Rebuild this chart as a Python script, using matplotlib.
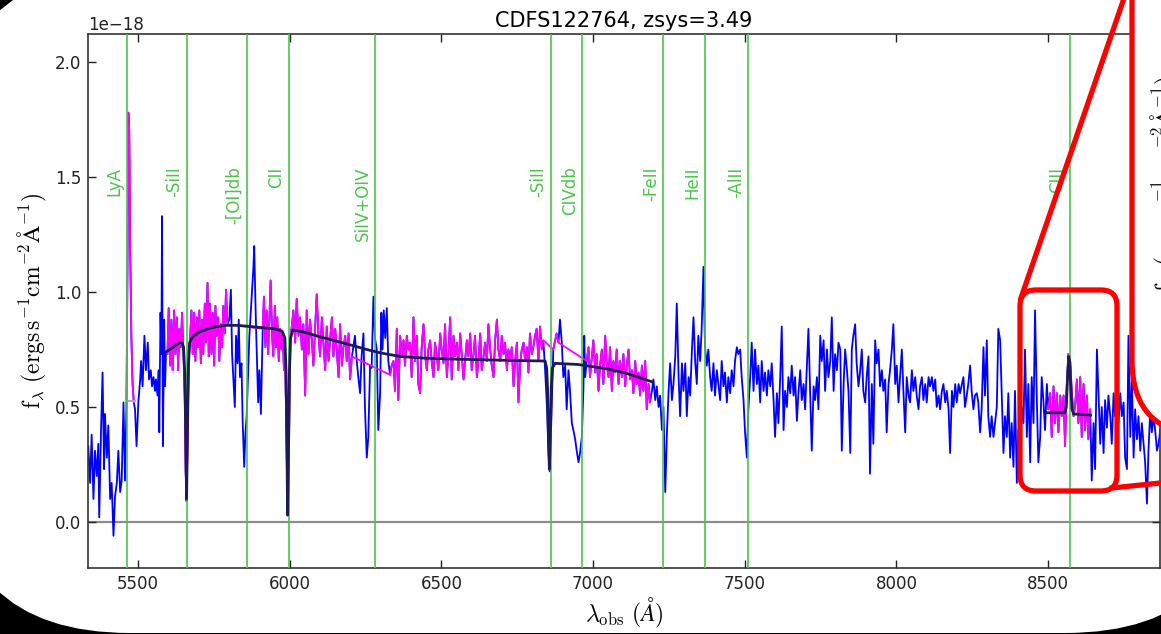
import numpy as np
import matplotlib
matplotlib.use('Agg')
import matplotlib.pyplot as plt
from matplotlib.patches import FancyBboxPatch
from matplotlib.lines import Line2D
import matplotlib.transforms as mtransforms

plt.rcParams['mathtext.fontset'] = 'cm'
plt.rcParams['font.family'] = 'DejaVu Sans'

# ---------------- data ----------------
title = 'CDFS122764, zsys=3.49'
flux_unit = 1e-18

wave_1 = [5336, 5342, 5347, 5353, 5358, 5364, 5369, 5372, 5378, 5383, 5388, 5391, 5397, 5402, 5408, 5413, 5419, 5424, 5430, 5435,
          5441, 5446, 5452, 5457, 5462, 5465, 5468, 5471, 5474, 5478, 5482, 5486, 5490, 5495, 5501, 5507, 5510, 5515, 5521, 5526,
          5532, 5536, 5542, 5546, 5551, 5556, 5559, 5564, 5568, 5570, 5574, 5577, 5579, 5582, 5586, 5589, 5592]
flux_1 = [0.33, 0.17, 0.38, 0.10, 0.31, 0.20, 0.34, 0.02, 0.40, 0.65, 0.23, 0.47, 0.28, 0.42, 0.10, 0.17, -0.06, 0.11, 0.17, 0.31,
          0.13, 0.18, 0.52, 0.18, 0.52, 1.10, 1.78, 1.70, 1.20, 0.80, 0.60, 0.52, 0.49, 0.33, 0.52, 0.62, 0.70, 0.59, 0.81, 0.66,
          0.78, 0.62, 0.66, 0.59, 0.63, 0.57, 0.62, 0.55, 0.66, 0.39, 0.91, 0.73, 1.33, 0.33, 0.88, 0.59, 0.73]

wave_2 = [5597, 5601, 5606, 5610, 5614, 5619, 5623, 5628, 5632, 5636, 5641, 5645, 5650, 5654, 5657, 5660, 5663, 5667, 5672, 5676,
          5680, 5685, 5689, 5694, 5698, 5702, 5707, 5711, 5715, 5720, 5724, 5729, 5733, 5737, 5742, 5746, 5751, 5755, 5759, 5764,
          5768, 5773, 5777, 5781, 5786, 5790, 5795]
flux_2 = [0.73, 0.93, 0.68, 0.88, 0.66, 0.92, 0.73, 0.89, 0.66, 0.84, 0.76, 0.91, 0.72, 0.55, 0.22, 0.09, 0.35, 0.70, 0.81, 0.92,
          0.73, 0.91, 0.70, 0.89, 0.76, 0.92, 0.69, 0.88, 0.73, 0.95, 0.78, 1.04, 0.72, 0.95, 0.73, 0.91, 0.68, 0.94, 0.81, 0.89,
          0.70, 0.86, 0.76, 0.94, 0.82, 1.01, 0.86]

wave_3 = [5801, 5806, 5810, 5814, 5819, 5823, 5828, 5832, 5836, 5841, 5845, 5850, 5854, 5858, 5863, 5867, 5872, 5876, 5880, 5883,
          5887, 5891, 5896, 5900, 5905]
flux_3 = [0.88, 1.01, 0.73, 0.63, 0.50, 0.81, 0.69, 0.88, 0.63, 0.69, 0.43, 0.24, 0.39, 0.46, 0.66, 0.81, 0.92, 1.01, 1.10, 1.20,
          0.95, 0.75, 0.52, 0.66, 0.47]

wave_4 = [5911, 5915, 5920, 5924, 5929, 5933, 5937, 5942, 5946, 5951, 5955, 5959, 5964, 5968, 5973, 5977, 5981, 5985, 5989, 5993,
          5997, 6001, 6007, 6012, 6018, 6023, 6029, 6034, 6040, 6045, 6051, 6056, 6062, 6067, 6073, 6078, 6084, 6089, 6095, 6100,
          6106, 6111, 6117, 6122, 6128, 6133, 6139, 6144, 6150, 6155, 6161, 6166, 6172, 6177, 6183, 6188, 6194, 6199, 6205]
flux_4 = [0.84, 0.98, 0.76, 0.92, 0.73, 0.88, 1.05, 0.81, 0.72, 0.94, 0.76, 0.89, 0.70, 0.84, 0.75, 0.82, 0.66, 0.70, 0.40, 0.03,
          0.25, 0.80, 0.85, 0.92, 0.78, 0.97, 0.81, 0.89, 0.75, 0.86, 0.55, 0.92, 0.73, 0.88, 0.79, 0.68, 0.85, 0.99, 0.81, 0.72,
          0.89, 0.78, 0.66, 0.85, 0.70, 0.79, 0.89, 0.72, 0.84, 0.75, 0.63, 0.86, 0.68, 0.76, 0.81, 0.70, 0.82, 0.62, 0.72]

wave_5 = [6215, 6221, 6226, 6232, 6237, 6243, 6248, 6254, 6259, 6265, 6270, 6276, 6281, 6287, 6292, 6298, 6302, 6306, 6310, 6315,
          6320, 6325]
flux_5 = [0.81, 0.70, 0.63, 0.56, 0.72, 0.82, 0.50, 0.28, 0.37, 0.68, 0.67, 0.98, 0.80, 0.75, 0.40, 0.56, 0.91, 0.75, 0.92, 0.80,
          0.93, 0.70]

wave_6 = [6331, 6336, 6342, 6347, 6353, 6358, 6364, 6369, 6375, 6380, 6386, 6391, 6397, 6402, 6408, 6413, 6419, 6424, 6430, 6435,
          6441, 6446, 6452, 6457, 6463, 6468, 6474, 6479, 6485, 6490, 6496, 6501, 6507, 6512, 6518, 6523, 6529, 6534, 6540, 6545,
          6551, 6556, 6562, 6567, 6573, 6578, 6584, 6589, 6595, 6600, 6606, 6611, 6617, 6622, 6628, 6633, 6639, 6644, 6650, 6655,
          6661, 6666, 6672, 6677, 6683, 6688, 6694, 6699, 6705, 6710, 6716, 6721, 6727, 6732, 6738, 6743, 6749, 6754, 6760, 6765,
          6771, 6776, 6782, 6787, 6792, 6798, 6803, 6809, 6814, 6820, 6825, 6831, 6836]
flux_6 = [0.64, 0.68, 0.70, 0.57, 0.84, 0.53, 0.81, 0.72, 0.79, 0.68, 0.81, 0.75, 0.78, 0.63, 0.89, 0.70, 0.81, 0.60, 0.56, 0.76,
          0.86, 0.73, 0.66, 0.75, 0.79, 0.70, 0.63, 0.78, 0.72, 0.66, 0.82, 0.75, 0.69, 0.86, 0.63, 0.73, 0.89, 0.62, 0.81, 0.72,
          0.78, 0.66, 0.82, 0.73, 0.62, 0.70, 0.79, 0.72, 0.82, 0.66, 0.73, 0.81, 0.63, 0.70, 0.82, 0.66, 0.72, 0.78, 0.70, 0.86,
          0.75, 0.68, 0.63, 0.79, 0.88, 0.75, 0.70, 0.81, 0.73, 0.78, 0.66, 0.75, 0.70, 0.76, 0.59, 0.70, 0.78, 0.52, 0.69, 0.75,
          0.78, 0.70, 0.76, 0.65, 0.82, 0.73, 0.76, 0.81, 0.84, 0.70, 0.85, 0.75, 0.79]

wave_7 = [6842, 6848, 6853, 6857, 6861, 6866, 6869, 6875, 6880, 6886, 6891, 6897, 6902, 6908, 6913, 6919, 6924, 6930, 6935, 6941,
          6946, 6952, 6957, 6963, 6968, 6971, 6974]
flux_7 = [0.66, 0.50, 0.30, 0.22, 0.38, 0.62, 0.75, 0.79, 0.82, 0.78, 0.88, 0.78, 0.63, 0.68, 0.49, 0.66, 0.57, 0.43, 0.40, 0.36,
          0.31, 0.26, 0.30, 0.37, 0.57, 0.81, 0.63]

wave_8 = [6979, 6985, 6990, 6996, 7001, 7007, 7012, 7018, 7023, 7029, 7034, 7040, 7045, 7051, 7056, 7062, 7067, 7073, 7078, 7084,
          7089, 7095, 7100, 7106, 7111, 7117, 7122, 7128, 7133, 7139, 7144, 7150, 7155, 7161, 7166, 7172, 7177, 7183, 7188]
flux_8 = [0.70, 0.76, 0.63, 0.72, 0.79, 0.65, 0.73, 0.57, 0.68, 0.75, 0.60, 0.81, 0.69, 0.63, 0.76, 0.57, 0.70, 0.65, 0.75, 0.60,
          0.70, 0.63, 0.73, 0.59, 0.68, 0.75, 0.62, 0.66, 0.56, 0.70, 0.60, 0.65, 0.55, 0.68, 0.57, 0.70, 0.49, 0.60, 0.52]

wave_9 = [7194, 7199, 7205, 7210, 7216, 7221, 7227, 7232, 7238, 7243, 7249, 7254, 7260, 7265, 7271, 7276, 7282, 7287, 7293, 7298,
          7304, 7309, 7315, 7320, 7326, 7331, 7337, 7342, 7347, 7353, 7358, 7364, 7369, 7375, 7380, 7386, 7391, 7397, 7402, 7408,
          7413, 7419, 7424, 7430, 7435, 7441, 7446, 7452, 7457, 7463, 7468, 7474, 7479, 7485, 7490, 7496, 7501, 7507, 7512]
flux_9 = [0.57, 0.62, 0.53, 0.59, 0.50, 0.55, 0.40, 0.50, 0.13, 0.37, 0.57, 0.69, 0.53, 0.60, 0.72, 0.95, 0.63, 0.46, 0.69, 0.57,
          0.69, 0.46, 0.63, 0.55, 0.75, 0.89, 0.69, 0.60, 0.81, 0.70, 0.84, 1.11, 0.76, 0.68, 0.75, 0.63, 0.57, 0.69, 0.55, 0.66,
          0.60, 0.53, 0.70, 0.59, 0.65, 0.52, 0.63, 0.56, 0.66, 0.59, 0.70, 0.76, 0.73, 0.75, 0.63, 0.53, 0.39, 0.28, 0.49]

wave_10 = [7518, 7523, 7529, 7534, 7540, 7545, 7551, 7556, 7562, 7567, 7573, 7578, 7584, 7589, 7595, 7600, 7606, 7611, 7617, 7622,
           7628, 7633, 7639, 7644, 7650, 7655, 7661, 7666, 7672, 7677, 7683, 7688, 7694, 7699, 7705, 7710, 7716, 7721, 7727, 7732,
           7738, 7743, 7749, 7754, 7760, 7765, 7771, 7776, 7782, 7787, 7793, 7798, 7804, 7809, 7815, 7820, 7826, 7831, 7837, 7842,
           7848, 7853, 7858, 7864, 7869, 7875, 7880, 7886, 7891, 7897, 7902, 7908, 7913, 7919, 7924, 7930, 7935, 7941, 7946, 7952,
           7957, 7963, 7968, 7974, 7979, 7985, 7990, 7996, 8001, 8007, 8012, 8018, 8023, 8029, 8034, 8040, 8045, 8051, 8056, 8062,
           8067, 8073, 8078, 8084, 8089, 8095, 8100, 8106, 8111, 8117, 8122, 8128, 8133, 8139, 8144, 8150, 8155, 8161, 8166, 8172,
           8177, 8183, 8188, 8194, 8199, 8205, 8210, 8216, 8221, 8226, 8232, 8237, 8243, 8248, 8254, 8259, 8265, 8270, 8276, 8281,
           8287, 8292, 8298, 8303, 8309, 8314, 8320, 8325, 8331, 8336, 8342, 8347, 8353, 8358, 8364, 8369, 8375, 8380, 8386, 8391,
           8397, 8402, 8408, 8413, 8419, 8424, 8430, 8435, 8441, 8446, 8452, 8457, 8463, 8468, 8474, 8479, 8485, 8490, 8496]
flux_10 = [0.63, 0.78, 0.57, 0.75, 0.60, 0.68, 0.52, 0.70, 0.57, 0.65,
           0.55, 0.66, 0.59, 0.69, 0.53, 0.37, 0.56, 0.43, 0.63, 0.85,
           0.40, 0.57, 0.50, 0.63, 0.56, 0.68, 0.55, 0.63, 0.44, 0.56,
           0.66, 0.53, 0.60, 0.49, 0.68, 0.84, 0.55, 0.31, 0.59, 0.53,
           0.63, 0.49, 0.81, 0.70, 0.79, 0.57, 0.75, 0.63, 0.70, 0.89,
           0.57, 0.73, 0.66, 0.78, 0.75, 0.31, 0.60, 0.75, 0.66, 0.57,
           0.30, 0.75, 0.81, 0.86, 0.69, 0.59, 0.65, 0.75, 0.57, 0.52,
           0.63, 0.72, 0.21, 0.60, 0.34, 0.79, 0.69, 0.75, 0.59, 0.66,
           0.57, 0.62, 0.39, 0.60, 0.66, 0.75, 0.86, 0.60, 0.68, 0.52,
           0.63, 0.75, 0.57, 0.39, 0.63, 0.55, 0.52, 0.66, 0.57, 0.63,
           0.55, 0.49, 0.59, 0.63, 0.53, 0.60, 0.52, 0.63, 0.59, 0.63,
           0.57, 0.62, 0.50, 0.55, 0.49, 0.57, 0.60, 0.52, 0.57, 0.49,
           0.30, 0.57, 0.50, 0.60, 0.52, 0.60, 0.56, 0.60, 0.63, 0.50,
           0.55, 0.60, 0.68, 0.57, 0.49, 0.55, 0.56, 0.52, 0.39, 0.49,
           0.76, 0.55, 0.79, 0.46, 0.37, 0.46, 0.37, 0.43, 0.50, 0.84,
           0.79, 0.57, 0.30, 0.46, 0.37, 0.56, 0.28, 0.43, 0.24, 0.57,
           0.17, 0.40, 0.31, 0.50, 0.43, 0.75, 0.37, 0.60, 0.26, 0.63,
           0.43, 0.92, 0.53, 0.26, 0.37, 0.63, 0.52, 0.40, 0.60]

wave_11 = [8501, 8507, 8512, 8518, 8523, 8529, 8534, 8540, 8545, 8551, 8556, 8562, 8567, 8573, 8578, 8584, 8589, 8595, 8600, 8606,
           8611, 8617, 8622, 8628, 8633, 8639]
flux_11 = [0.49, 0.56, 0.37, 0.59, 0.43, 0.56, 0.39, 0.55, 0.46, 0.55, 0.33, 0.60, 0.73, 0.70, 0.57, 0.46, 0.50, 0.62, 0.43, 0.63,
           0.37, 0.60, 0.40, 0.55, 0.36, 0.49]

wave_12 = [8644, 8650, 8655, 8661, 8666, 8672, 8677, 8683, 8688, 8694, 8699, 8705, 8710, 8716, 8721, 8727, 8732, 8738, 8743, 8749,
           8754, 8760, 8765, 8771, 8776, 8782, 8787, 8793, 8798, 8804, 8809, 8815, 8820, 8826, 8831, 8837, 8842, 8848, 8853, 8859,
           8864, 8870]
flux_12 = [0.18, 0.43, 0.23, 0.75, 0.57, 0.34, 0.50, 0.30, 0.53, 0.41, 0.55, 0.46, 0.34, 0.56, 0.46, 0.55, 0.43, 0.56, 0.46, 0.52,
           0.28, 0.23, 0.81, 0.37, 0.63, 0.28, 0.49, 0.36, 0.46, 0.31, 0.43, 0.34, 0.26, 0.08, 0.31, 0.49, 0.39, 0.46, 0.40, 0.31,
           0.34, 0.40]

# fitting windows (magenta); windows inside one group are joined by the line
fit_groups = [
    [(5459, 5489)],
    [(5593, 5797), (5908, 6206), (6330, 6840), (6868, 6890), (6975, 7190)],
    [(8498, 8640)],
]

# continuum + absorption model
model_wave_1 = [5593, 5610, 5625, 5638, 5645, 5650, 5654, 5657, 5660, 5663, 5666, 5670, 5680, 5700, 5730, 5760, 5790, 5830, 5870,
                5910, 5950, 5975, 5984, 5988, 5991, 5993, 5996, 5999, 6003, 6010, 6050, 6100, 6144, 6200, 6254, 6300, 6364, 6450,
                6550, 6650, 6750, 6842, 6847, 6850, 6853, 6856, 6859, 6862, 6866, 6875, 6950, 7000, 7050, 7100, 7150, 7193]
model_flux_1 = [0.74, 0.755, 0.77, 0.78, 0.78, 0.76, 0.65, 0.40, 0.10, 0.40, 0.68, 0.78, 0.805, 0.825, 0.84, 0.85, 0.855, 0.855,
                0.85, 0.845, 0.84, 0.83, 0.80, 0.65, 0.30, 0.03, 0.30, 0.65, 0.80, 0.835, 0.825, 0.805, 0.79, 0.77, 0.75, 0.735,
                0.72, 0.712, 0.708, 0.705, 0.702, 0.70, 0.67, 0.58, 0.38, 0.23, 0.36, 0.58, 0.67, 0.69, 0.685, 0.675, 0.665, 0.65,
                0.63, 0.61]
model_wave_2 = [8497, 8555, 8560, 8564, 8568, 8571, 8575, 8579, 8584, 8640]
model_flux_2 = [0.475, 0.475, 0.50, 0.62, 0.72, 0.70, 0.58, 0.49, 0.47, 0.465]
lya_wave = [5460, 5490]
lya_flux = [0.525, 0.525]

line_names = ['LyA', '-SiII', '-[OI]db', 'CII', 'SiIV+OIV', '-SiII', 'CIVdb', '-FeII', 'HeII', '-AlII', 'CIII']
line_waves = [5462, 5662, 5858, 5997, 6281, 6861, 6965, 7232, 7370, 7512, 8572]

xticks = [5500, 6000, 6500, 7000, 7500, 8000, 8500]
yticks = [0.0, 0.5, 1.0, 1.5, 2.0]

# ---------------- assemble ----------------
waves = [wave_1, wave_2, wave_3, wave_4, wave_5, wave_6, wave_7, wave_8, wave_9, wave_10, wave_11, wave_12]
fluxes = [flux_1, flux_2, flux_3, flux_4, flux_5, flux_6, flux_7, flux_8, flux_9, flux_10, flux_11, flux_12]
for i, (w, f) in enumerate(zip(waves, fluxes)):
    assert len(w) == len(f), (i + 1, len(w), len(f))
wave = np.concatenate([np.array(w, float) for w in waves])
flux = np.concatenate([np.array(f, float) for f in fluxes]) * flux_unit

# ---------------- figure ----------------
W, H = 1161, 634
fig = plt.figure(figsize=(W / 100, H / 100), dpi=100, facecolor='black')
pix = mtransforms.Affine2D().scale(1, -1).translate(0, H)  # pixel coords, origin top-left

panel = FancyBboxPatch((-50, -30), 1295, 663, boxstyle='round,pad=0,rounding_size=180',
                       transform=pix, facecolor='white', edgecolor='none', zorder=-10)
fig.add_artist(panel)

ax = fig.add_axes([88 / W, (H - 568) / H, (1160 - 88) / W, (568 - 34) / H])
ax.set_facecolor('white')

green = '#4cc44c'
ax.axhline(0, color='#8c8c8c', lw=1.6, zorder=1)
ax.plot(wave, flux, color='#0000ff', lw=1.3, zorder=2)
for group in fit_groups:
    m = np.zeros(wave.shape, bool)
    for lo, hi in group:
        m |= (wave >= lo) & (wave <= hi)
    ax.plot(wave[m], flux[m], color='#ff00ff', lw=1.3, zorder=3)
ax.plot(lya_wave, np.array(lya_flux) * flux_unit, color='#b9a4b9', lw=1.5, zorder=3.2)
for lw_, name in zip(line_waves, line_names):
    ax.axvline(lw_, color=green, lw=1.2, zorder=3.5)
    ax.annotate(name, xy=(lw_, 1.545 * flux_unit), xytext=(-2.5, 0), textcoords='offset points',
                rotation=90, ha='right', va='top', color=green, fontsize=12, zorder=3.5)
ax.plot(model_wave_1, np.array(model_flux_1) * flux_unit, color='#1c1c52', lw=2.0, zorder=4)
ax.plot(model_wave_2, np.array(model_flux_2) * flux_unit, color='#1c1c52', lw=2.0, zorder=4)

ax.set_xlim(5335, 8869)
ax.set_ylim(-0.2 * flux_unit, 2.122 * flux_unit)
ax.set_xticks(xticks)
ax.set_yticks(np.array(yticks) * flux_unit)
ax.tick_params(direction='in', top=True, right=True, length=6, width=1, labelsize=12, pad=5, colors='#222222')
for s in ax.spines.values():
    s.set_color('#333333')
    s.set_linewidth(1.2)
ax.yaxis.get_offset_text().set_fontsize(12)
ax.set_title(title, fontsize=15, pad=5)
ylabel = r'$\mathrm{f_{\lambda}\ (ergs\,s^{-1}cm^{-2}\AA^{-1})}$'
ax.set_ylabel(ylabel, fontsize=17, labelpad=4)
ax.set_xlabel(r'$\lambda_{\rm obs}\ (\AA)$', fontsize=17, labelpad=2)

# ---------------- slide annotations ----------------
red = '#ff0000'
box = FancyBboxPatch((1020, 290), 97, 201, boxstyle='round,pad=0,rounding_size=16',
                     transform=pix, facecolor='none', edgecolor=red, lw=3.8, zorder=10)
fig.add_artist(box)
fig.add_artist(Line2D([1021, 1132], [298, -25], transform=pix, color=red, lw=3.8, zorder=10))
fig.add_artist(Line2D([1112, 1170], [488, 482], transform=pix, color=red, lw=3.8, zorder=10))
inset = FancyBboxPatch((1132, -200), 500, 635, boxstyle='round,pad=0,rounding_size=75',
                       transform=pix, facecolor='white', edgecolor=red, lw=3.8, zorder=11)
fig.add_artist(inset)
fig.text(1165, 184, ylabel, transform=pix, rotation=90, ha='center', va='center', fontsize=17, zorder=12)

fig.savefig('out.png', dpi=100, facecolor=fig.get_facecolor())
